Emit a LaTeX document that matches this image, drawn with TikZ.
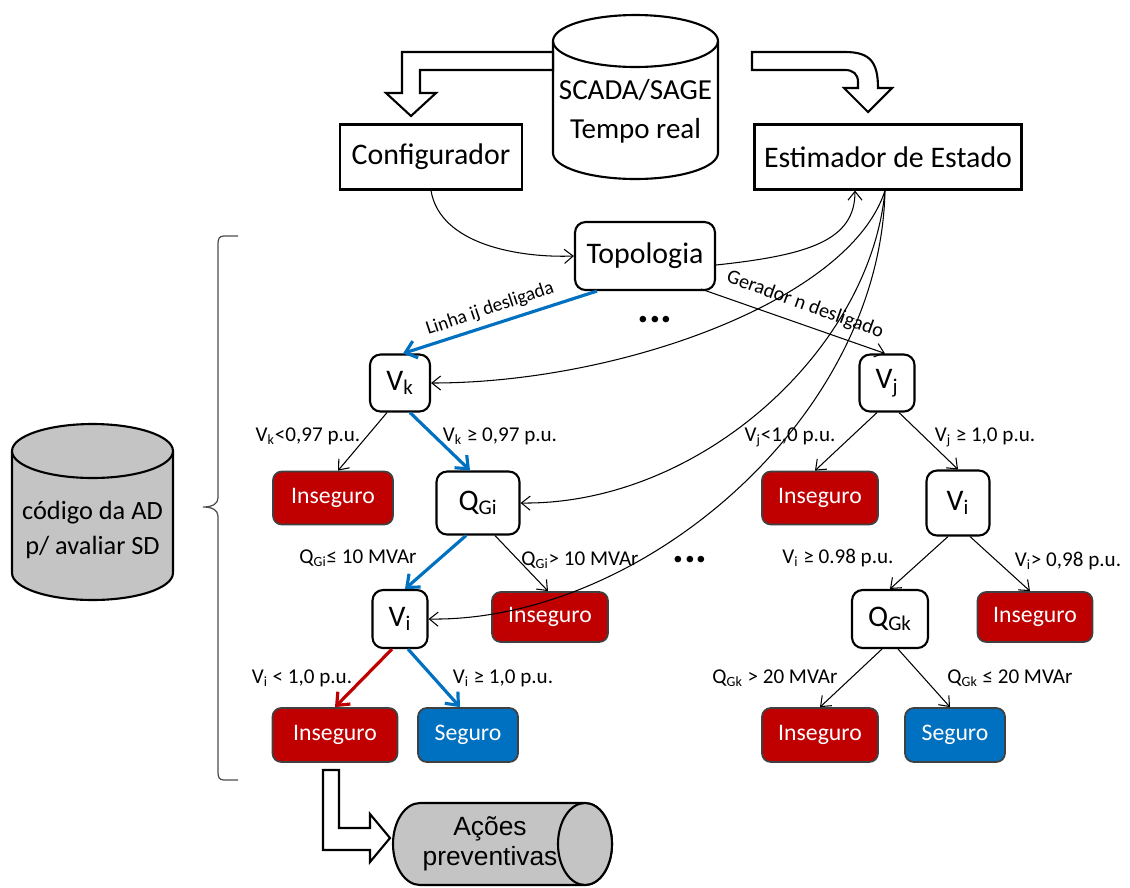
\documentclass[tikz,border=0pt]{standalone}
\usepackage{fontspec}
\setmainfont{Carlito}
\newfontfamily\arialf{Liberation Sans}
\usetikzlibrary{arrows.meta,calc}
\definecolor{myred}{HTML}{C00000}
\definecolor{myblue}{HTML}{0070C0}
\definecolor{cylgray}{HTML}{C4C4C4}
\newcommand\sbx[1]{\textsubscript{#1}}
\tikzset{
  box/.style={draw, line width=1.2pt, fill=white, inner sep=0pt, font=\fontsize{17}{20}\selectfont},
  rbox/.style={box, rounded corners=6pt},
  insbox/.style={draw=black!75, line width=1pt, rounded corners=5pt, fill=myred, text=white, inner sep=0pt, font=\fontsize{13.5}{16}\selectfont},
  segbox/.style={insbox, fill=myblue},
  lbl/.style={inner sep=1pt, font=\fontsize{12}{14}\selectfont},
  arr/.style={-{Straight Barb[length=5pt,width=8pt]}, line width=0.6pt},
  barr/.style={-{Straight Barb[length=6pt,width=10pt]}, line width=1.8pt, draw=myblue},
  rarr/.style={-{Straight Barb[length=6pt,width=10pt]}, line width=1.8pt, draw=myred},
  hollow/.style={draw, line width=1.2pt, fill=white, line join=miter},
  cyl/.style={draw, line width=1.2pt},
  dots/.style={font=\fontsize{25}{25}\selectfont\bfseries}
}
\begin{document}
\begin{tikzpicture}[x=0.02cm,y=-0.02cm]
\useasboundingbox (0,0) rectangle (1130,887);

% SCADA cylinder
\draw[cyl, fill=white] (553,41) -- (553,153) arc[start angle=180, end angle=360, x radius=1.65cm, y radius=0.52cm] -- (718,41);
\draw[cyl] (635.5,41) ellipse [x radius=1.65cm, y radius=0.52cm];
\node[align=center, font=\fontsize{16.5}{22}\selectfont] (scada) at (635.5,111) {SCADA/SAGE\\Tempo real};

% hollow arrows from SCADA
\draw[hollow] (553,52) -- (402,52) -- (402,93) -- (386,93) -- (411,116) -- (436,93) -- (420,93) -- (420,70) -- (553,70) -- cycle;
\draw[hollow] (752,52) -- (845,52) .. controls (870,52) and (878,62) .. (878,88) -- (892,88) -- (868,112) -- (844,88) -- (858,88) -- (858,82) .. controls (858,74) and (853,70) .. (845,70) -- (752,70) -- cycle;

% main boxes
\node[box, minimum width=3.64cm, minimum height=1.3cm] (conf) at (431,157) {Configurador};
\node[box, minimum width=5.34cm, minimum height=1.3cm] (est) at (888,157) {Estimador de Estado};
\node[rbox, minimum width=2.8cm, minimum height=1.36cm] (topo) at (645,256) {Topologia};

% left tree
\node[rbox, minimum width=1.2cm, minimum height=1.14cm] (vk) at (400,383) {V\sbx{k}};
\node[insbox, minimum width=2.4cm, minimum height=1.06cm] (ins1) at (333,498) {Inseguro};
\node[rbox, minimum width=1.66cm, minimum height=1.26cm] (qgi) at (478,503) {Q\sbx{Gi}};
\node[rbox, minimum width=1.1cm, minimum height=1.16cm] (vi1) at (400,619) {V\sbx{i}};
\node[insbox, minimum width=2.32cm, minimum height=1.0cm] (ins2) at (550,617) {Inseguro};
\node[insbox, minimum width=2.5cm, minimum height=1.08cm] (ins3) at (335,735) {Inseguro};
\node[segbox, minimum width=2.0cm, minimum height=1.08cm] (seg1) at (468,735) {Seguro};

% right tree
\node[rbox, minimum width=1.1cm, minimum height=1.14cm] (vj) at (887,383) {V\sbx{j}};
\node[insbox, minimum width=2.32cm, minimum height=1.06cm] (ins4) at (820,498) {Inseguro};
\node[rbox, minimum width=1.26cm, minimum height=1.3cm] (vi2) at (958,503) {V\sbx{i}};
\node[rbox, minimum width=1.52cm, minimum height=1.16cm] (qgk) at (890,619) {Q\sbx{Gk}};
\node[insbox, minimum width=2.3cm, minimum height=1.0cm] (ins5) at (1035,617) {Inseguro};
\node[insbox, minimum width=2.32cm, minimum height=1.08cm] (ins6) at (820,735) {Inseguro};
\node[segbox, minimum width=2.0cm, minimum height=1.08cm] (seg2) at (955,735) {Seguro};

% curves
\draw[arr] (conf.south) .. controls (440,245) and (520,258) .. (topo.west);
\draw[arr] ($(topo.east)+(0,9)$) .. controls (810,255) and (855,240) .. ($(est.south)+(-33,0)$);
\draw[arr] ($(est.south)+(-3,0)$) .. controls (850,300) and (620,383) .. (vk.east);
\draw[arr] ($(est.south)+(-3,0)$) .. controls (870,350) and (700,505) .. (qgi.east);
\draw[arr] ($(est.south)+(-3,0)$) .. controls (880,420) and (640,622) .. (vi1.east);

% topology branches
\draw[barr] ($(topo.south)+(-48,0)$) -- ($(vk.north)+(3,0)$);
\draw[arr] ($(topo.south east)+(-15,-2)$) -- ($(vj.north)+(-2,0)$);
\node[rotate=18.5, inner sep=1pt, font=\fontsize{11}{13}\selectfont] (lij) at (490,309) {Linha ij desligada};
\node[rotate=-20, inner sep=1pt, font=\fontsize{11.5}{13}\selectfont] (lgn) at (805,305) {Gerador n desligado};
\node[dots] (d1) at (655,320) {...};
\node[dots] (d2) at (690,560) {...};

% tree edges
\draw[arr] ($(vk.south)+(-13,0)$) -- ($(ins1.north)+(5,0)$);
\draw[barr] ($(vk.south)+(10,0)$) -- ($(qgi.north)+(-8,0)$);
\draw[barr] ($(qgi.south)+(-12,0)$) -- ($(vi1.north)+(5,0)$);
\draw[arr] ($(qgi.south)+(17,0)$) -- ($(ins2.north)+(-2,0)$);
\draw[rarr] ($(vi1.south)+(-8,0)$) -- (ins3.north);
\draw[barr] ($(vi1.south)+(8,0)$) -- ($(seg1.north)+(-8,0)$);
\draw[arr] ($(vj.south)+(-10,0)$) -- ($(ins4.north)+(-5,0)$);
\draw[arr] ($(vj.south)+(12,0)$) -- (vi2.north);
\draw[arr] ($(vi2.south)+(-10,0)$) -- (qgk.north);
\draw[arr] ($(vi2.south)+(12,0)$) -- ($(ins5.north)+(-5,0)$);
\draw[arr] ($(qgk.south)+(-8,0)$) -- (ins6.north);
\draw[arr] ($(qgk.south)+(8,0)$) -- ($(seg2.north)+(-5,0)$);

% edge labels
\node[lbl] (l1) at (308,436) {V\sbx{k}<0,97 p.u.};
\node[lbl] (l2) at (500,436) {V\sbx{k} ≥ 0,97 p.u.};
\node[lbl] (l3) at (358,558) {Q\sbx{Gi}≤ 10 MVAr};
\node[lbl] (l4) at (580,560) {Q\sbx{Gi}> 10 MVAr};
\node[lbl] (l5) at (302,678) {V\sbx{i} < 1,0 p.u.};
\node[lbl] (l6) at (503,678) {V\sbx{i} ≥ 1,0 p.u.};
\node[lbl] (l7) at (790,437) {V\sbx{j}<1,0 p.u.};
\node[lbl] (l8) at (985,437) {V\sbx{j} ≥ 1,0 p.u.};
\node[lbl] (l9) at (838,558) {V\sbx{i} ≥ 0.98 p.u.};
\node[lbl] (l10) at (1068,561) {V\sbx{i}> 0,98 p.u.};
\node[lbl] (l11) at (775,678) {Q\sbx{Gk} > 20 MVAr};
\node[lbl] (l12) at (1010,678) {Q\sbx{Gk} ≤ 20 MVAr};

% left cylinder
\draw[cyl, fill=cylgray] (12,451) -- (12,573) arc[start angle=180, end angle=360, x radius=1.61cm, y radius=0.54cm] -- (173,451);
\draw[cyl, fill=cylgray] (92.5,451) ellipse [x radius=1.61cm, y radius=0.54cm];
\node[align=center, font=\fontsize{15}{20}\selectfont] (cod) at (92.5,530) {código da AD\\p/ avaliar SD};

% brace
\draw[line width=0.7pt, black!70] (238,236) -- (224,236) .. controls (219,236) and (218,239) .. (218,244) -- (218,498) .. controls (218,504) and (212,507) .. (203,507) .. controls (212,507) and (218,510) .. (218,516) -- (218,772) .. controls (218,777) and (219,780) .. (224,780) -- (238,780);

% bottom hollow arrow
\draw[hollow] (323,770) -- (323,850) -- (370,850) -- (370,862) -- (390,838) -- (370,814) -- (370,828) -- (339,828) -- (339,770) -- cycle;

% Acoes preventivas cylinder
\draw[cyl, fill=cylgray] (585,803) -- (420,803) arc[start angle=90, end angle=270, x radius=0.54cm, y radius=0.82cm] -- (585,885) arc[start angle=270, end angle=450, x radius=0.54cm, y radius=0.82cm];
\draw[cyl, fill=cylgray] (585,844) ellipse [x radius=0.54cm, y radius=0.82cm];
\node[align=center, font=\arialf\fontsize{15}{17}\selectfont] (acoes) at (490,844) {Ações\\preventivas};
\end{tikzpicture}
\end{document}
